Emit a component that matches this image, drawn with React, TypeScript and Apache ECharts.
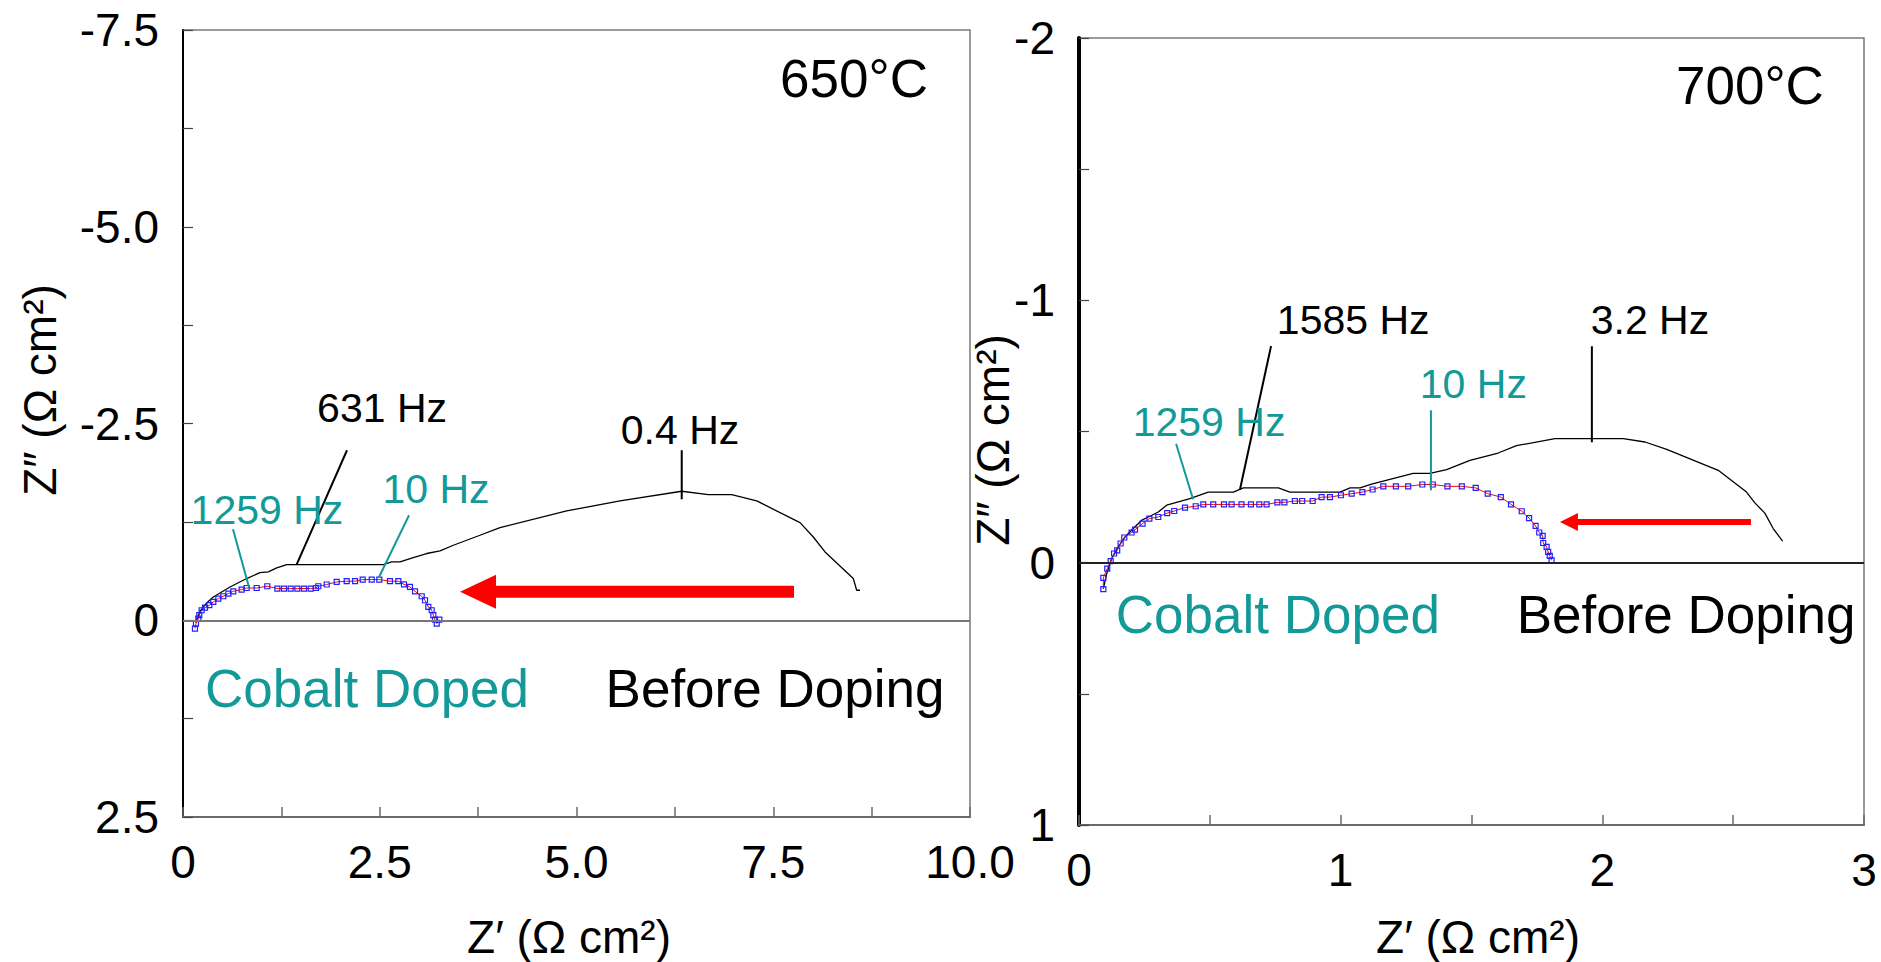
import React, { useEffect, useRef } from 'react';
import * as echarts from 'echarts';

const BLACK = '#000000';
const TEAL = '#139a98';
const BLUE = '#1f1fff';
const RED = '#ff0000';
const FONT = "'Liberation Sans', Arial, Helvetica, sans-serif";

// ---------- 650 °C : [Z', Z''] (Ω cm²) ----------
const before650: [number, number][] = [
  [0.16, 0.03], [0.22, -0.12], [0.3, -0.22], [0.385, -0.296], [0.597, -0.423],
  [0.809, -0.53], [0.978, -0.606], [1.084, -0.614], [1.191, -0.665], [1.318, -0.708],
  [2.545, -0.708], [2.652, -0.741], [2.757, -0.741], [2.926, -0.797], [3.097, -0.848],
  [3.266, -0.881], [3.435, -0.953], [3.774, -1.08], [4.028, -1.178], [4.875, -1.389],
  [5.553, -1.516], [6.337, -1.639], [6.675, -1.597], [6.972, -1.597], [7.29, -1.516],
  [7.84, -1.241], [8.009, -1.058], [8.158, -0.868], [8.517, -0.53], [8.56, -0.381],
  [8.602, -0.381],
];
const doped650: [number, number][] = [
  [0.152, 0.106], [0.165, 0.042], [0.195, -0.021], [0.207, -0.064], [0.237, -0.127],
  [0.28, -0.161], [0.334, -0.191], [0.385, -0.233], [0.449, -0.276], [0.512, -0.305],
  [0.576, -0.339], [0.639, -0.368], [0.745, -0.39], [0.809, -0.41], [0.936, -0.41],
  [1.071, -0.432], [1.199, -0.403], [1.283, -0.403], [1.368, -0.403], [1.453, -0.403],
  [1.537, -0.403], [1.622, -0.403], [1.69, -0.41], [1.719, -0.432], [1.826, -0.454],
  [1.953, -0.487], [2.08, -0.496], [2.186, -0.496], [2.283, -0.517], [2.398, -0.517],
  [2.494, -0.517], [2.63, -0.496], [2.736, -0.496], [2.808, -0.457], [2.884, -0.423],
  [2.948, -0.368], [3.033, -0.305], [3.075, -0.254], [3.117, -0.169], [3.16, -0.127],
  [3.181, -0.064], [3.202, -0.009], [3.224, 0.042], [3.257, -0.009],
];

// ---------- 700 °C : [Z', Z''] (Ω cm²) ----------
const before700: [number, number][] = [
  [0.093, 0.099], [0.106, 0.042], [0.125, -0.016], [0.15, -0.06], [0.176, -0.098],
  [0.207, -0.13], [0.24, -0.162], [0.271, -0.177], [0.303, -0.193], [0.335, -0.219],
  [0.424, -0.244], [0.494, -0.269], [0.59, -0.269], [0.628, -0.285], [0.762, -0.285],
  [0.806, -0.269], [0.997, -0.269], [1.036, -0.285], [1.074, -0.285], [1.118, -0.299],
  [1.277, -0.34], [1.341, -0.34], [1.405, -0.355], [1.494, -0.39], [1.602, -0.418],
  [1.672, -0.446], [1.819, -0.473], [2.08, -0.473], [2.163, -0.46], [2.246, -0.432],
  [2.443, -0.352], [2.551, -0.269], [2.583, -0.228], [2.621, -0.189], [2.653, -0.13],
  [2.689, -0.082],
];
const doped700: [number, number][] = [
  [0.093, 0.101], [0.093, 0.058], [0.108, 0.023], [0.121, -0.006], [0.134, -0.035],
  [0.146, -0.047], [0.159, -0.073], [0.173, -0.096], [0.201, -0.115], [0.214, -0.126],
  [0.243, -0.149], [0.269, -0.168], [0.303, -0.174], [0.337, -0.189], [0.364, -0.197],
  [0.405, -0.21], [0.446, -0.215], [0.475, -0.222], [0.513, -0.222], [0.554, -0.222],
  [0.583, -0.222], [0.621, -0.222], [0.657, -0.222], [0.689, -0.222], [0.717, -0.222],
  [0.758, -0.23], [0.785, -0.23], [0.825, -0.235], [0.853, -0.235], [0.893, -0.235],
  [0.927, -0.25], [0.959, -0.25], [1.001, -0.257], [1.042, -0.263], [1.083, -0.269],
  [1.122, -0.279], [1.163, -0.291], [1.211, -0.291], [1.258, -0.291], [1.312, -0.298],
  [1.352, -0.298], [1.408, -0.291], [1.463, -0.291], [1.516, -0.285], [1.562, -0.263],
  [1.612, -0.25], [1.651, -0.222], [1.692, -0.196], [1.72, -0.17], [1.745, -0.14],
  [1.759, -0.115], [1.772, -0.102], [1.774, -0.075], [1.787, -0.06], [1.793, -0.041],
  [1.799, -0.026], [1.806, -0.009],
];

// ---------- tick labels ----------
const x650Ticks = [0, 2.5, 5, 7.5, 10];
const x650Labels = ['0', '2.5', '5.0', '7.5', '10.0'];
const y650Ticks = [-7.5, -5, -2.5, 0, 2.5];
const y650Labels = ['-7.5', '-5.0', '-2.5', '0', '2.5'];
const x700Ticks = [0, 1, 2, 3];
const x700Labels = ['0', '1', '2', '3'];
const y700Ticks = [-2, -1, 0, 1];
const y700Labels = ['-2', '-1', '0', '1'];

// ---------- annotations (in data units) ----------
type Note = { text: string; color: string; at: [number, number]; from: [number, number]; to: [number, number] };
const notes650: Note[] = [
  { text: '631 Hz', color: BLACK, at: [2.529, -2.694], from: [2.084, -2.16], to: [1.445, -0.71] },
  { text: '0.4 Hz', color: BLACK, at: [6.315, -2.414], from: [6.337, -2.16], to: [6.337, -1.537] },
  { text: '1259 Hz', color: TEAL, at: [1.067, -1.398], from: [0.635, -1.156], to: [0.839, -0.419] },
  { text: '10 Hz', color: TEAL, at: [3.215, -1.665], from: [2.872, -1.334], to: [2.49, -0.546] },
];
const notes700: Note[] = [
  { text: '1585 Hz', color: BLACK, at: [1.048, -0.924], from: [0.734, -0.826], to: [0.615, -0.278] },
  { text: '3.2 Hz', color: BLACK, at: [2.182, -0.924], from: [1.96, -0.825], to: [1.96, -0.459] },
  { text: '1259 Hz', color: TEAL, at: [0.497, -0.535], from: [0.371, -0.453], to: [0.436, -0.242] },
  { text: '10 Hz', color: TEAL, at: [1.507, -0.68], from: [1.345, -0.581], to: [1.345, -0.276] },
];
type Big = { text: string; color: string; at: [number, number] };
const big650: Big[] = [
  { text: '650°C', color: BLACK, at: [8.526, -6.887] },
  { text: 'Cobalt Doped', color: TEAL, at: [2.338, 0.864] },
  { text: 'Before Doping', color: BLACK, at: [7.522, 0.864] },
];
const big700: Big[] = [
  { text: '700°C', color: BLACK, at: [2.564, -1.819] },
  { text: 'Cobalt Doped', color: TEAL, at: [0.76, 0.197] },
  { text: 'Before Doping', color: BLACK, at: [2.32, 0.197] },
];
const arrow650 = { tail: [7.764, -0.362] as [number, number], tip: [3.52, -0.362] as [number, number], shaft: 12, headLen: 36, headW: 34 };
const arrow700 = { tail: [2.568, -0.155] as [number, number], tip: [1.838, -0.155] as [number, number], shaft: 6, headLen: 18, headW: 18 };

const fmt = (ticks: number[], labels: string[]) => (v: number) => {
  const i = ticks.findIndex((t) => Math.abs(t - v) < 1e-6);
  return i >= 0 ? labels[i] : '';
};

const axisLabelBase = { color: BLACK, fontSize: 46, fontFamily: FONT, showMinLabel: true, showMaxLabel: true };

function xAxisCfg(grid: number, max: number, step: number, ticks: number[], labels: string[]) {
  return {
    gridIndex: grid, type: 'value', min: 0, max, interval: step,
    axisLine: { show: true, onZero: false, lineStyle: { color: '#6a6a6a', width: 2 } },
    axisTick: { show: true, inside: true, length: 10, lineStyle: { color: '#6a6a6a', width: 1.5 } },
    axisLabel: { ...axisLabelBase, margin: 22, formatter: fmt(ticks, labels) },
    splitLine: { show: false },
  };
}
function yAxisCfg(grid: number, min: number, max: number, step: number, ticks: number[], labels: string[], w: number) {
  return {
    gridIndex: grid, type: 'value', inverse: true, min, max, interval: step,
    axisLine: { show: true, onZero: false, lineStyle: { color: BLACK, width: w } },
    axisTick: { show: true, inside: true, length: 10, lineStyle: { color: '#444', width: 1.2 } },
    axisLabel: { ...axisLabelBase, margin: 24, formatter: fmt(ticks, labels) },
    splitLine: { show: false },
  };
}

function curves(grid: number, before: [number, number][], doped: [number, number][], zeroColor: string) {
  return [
    {
      type: 'line', xAxisIndex: grid, yAxisIndex: grid, data: before, symbol: 'none',
      lineStyle: { color: BLACK, width: 1.3 }, z: 2,
      markLine: {
        silent: true, symbol: 'none', label: { show: false },
        lineStyle: { color: zeroColor, width: 2, type: 'solid' }, data: [{ yAxis: 0 }],
      },
    },
    {
      type: 'line', xAxisIndex: grid, yAxisIndex: grid, data: doped, symbol: 'rect', symbolSize: 5,
      showAllSymbol: true,
      itemStyle: { color: 'rgba(255,255,255,0)', borderColor: BLUE, borderWidth: 1.2 },
      lineStyle: { color: RED, width: 1 }, z: 3,
    },
  ];
}

export default function App() {
  const ref = useRef<HTMLDivElement>(null);
  useEffect(() => {
    const el = ref.current!;
    const chart = echarts.init(el, null, { renderer: 'svg' });
    chart.setOption({
      animation: false,
      backgroundColor: '#ffffff',
      textStyle: { fontFamily: FONT },
      grid: [
        { left: 183, top: 30, width: 787, height: 787, show: true, borderColor: '#7a7a7a', borderWidth: 1.5 },
        { left: 1079, top: 38, width: 785, height: 787, show: true, borderColor: '#7a7a7a', borderWidth: 1.5 },
      ],
      xAxis: [xAxisCfg(0, 10, 1.25, x650Ticks, x650Labels), xAxisCfg(1, 3, 0.5, x700Ticks, x700Labels)],
      yAxis: [
        yAxisCfg(0, -7.5, 2.5, 1.25, y650Ticks, y650Labels, 2),
        yAxisCfg(1, -2, 1, 0.5, y700Ticks, y700Labels, 4),
      ],
      series: [...curves(0, before650, doped650, '#777777'), ...curves(1, before700, doped700, '#222222')],
    });

    const px = (g: number, p: [number, number]) => chart.convertToPixel({ gridIndex: g } as any, p) as number[];
    const graphics: any[] = [];
    const addNotes = (g: number, notes: Note[]) => {
      notes.forEach((n) => {
        const a = px(g, n.from);
        const b = px(g, n.to);
        const c = px(g, n.at);
        graphics.push({ type: 'line', z: 50, silent: true, shape: { x1: a[0], y1: a[1], x2: b[0], y2: b[1] }, style: { stroke: n.color, lineWidth: 2 } });
        graphics.push({ type: 'text', z: 50, x: c[0], y: c[1], style: { text: n.text, fill: n.color, fontSize: 41, fontFamily: FONT, align: 'center', verticalAlign: 'middle' } });
      });
    };
    const addBig = (g: number, items: Big[]) => {
      items.forEach((n) => {
        const c = px(g, n.at);
        graphics.push({ type: 'text', z: 50, x: c[0], y: c[1], style: { text: n.text, fill: n.color, fontSize: 53, fontFamily: FONT, align: 'center', verticalAlign: 'middle' } });
      });
    };
    const addArrow = (g: number, ar: typeof arrow650) => {
      const t = px(g, ar.tip);
      const e = px(g, ar.tail);
      const cy = t[1];
      const hx = t[0] + ar.headLen;
      const pts = [
        [t[0], cy], [hx, cy - ar.headW / 2], [hx, cy - ar.shaft / 2], [e[0], cy - ar.shaft / 2],
        [e[0], cy + ar.shaft / 2], [hx, cy + ar.shaft / 2], [hx, cy + ar.headW / 2],
      ];
      graphics.push({ type: 'polygon', z: 50, silent: true, shape: { points: pts }, style: { fill: RED } });
    };
    addNotes(0, notes650);
    addNotes(1, notes700);
    addBig(0, big650);
    addBig(1, big700);
    addArrow(0, arrow650);
    addArrow(1, arrow700);

    const axisName = (text: string, x: number, y: number, rot: number) => ({
      type: 'text', z: 50, x, y, rotation: rot,
      style: { text, fill: BLACK, fontSize: 46, fontFamily: FONT, align: 'center', verticalAlign: 'middle' },
    });
    graphics.push(axisName('Z′ (Ω cm²)', 569, 937, 0));
    graphics.push(axisName('Z′ (Ω cm²)', 1478, 937, 0));
    graphics.push(axisName('Z″ (Ω cm²)', 40, 390, Math.PI / 2));
    graphics.push(axisName('Z″ (Ω cm²)', 993, 440, Math.PI / 2));

    chart.setOption({ graphic: graphics });
    return () => chart.dispose();
  }, []);
  return <div ref={ref} style={{ position: 'fixed', left: 0, top: 0, width: 1881, height: 962 }} />;
}
